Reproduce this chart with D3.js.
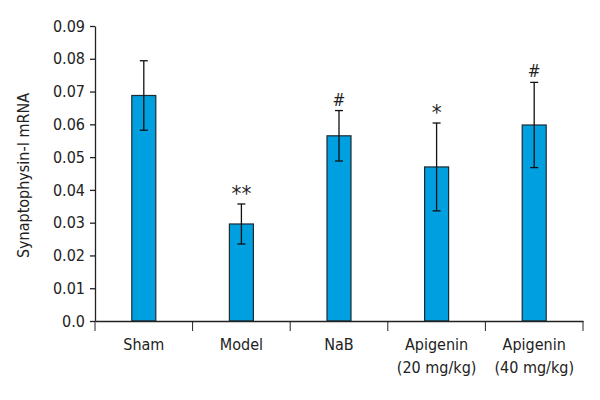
<!DOCTYPE html>
<html>
<head>
<meta charset="utf-8">
<script src="https://cdn.jsdelivr.net/npm/d3@7"></script>
<style>
  body { margin: 0; background: #fff; }
  svg text { font-family: "Liberation Sans Narrow", "DejaVu Sans Condensed", sans-serif; fill: #222; }
</style>
</head>
<body>
<svg id="chart" width="600" height="400"></svg>
<script>
// data
var groups = ["Sham", "Model", "NaB", "Apigenin\n(20 mg/kg)", "Apigenin\n(40 mg/kg)"];
var means  = [0.0688, 0.0296, 0.0565, 0.0470, 0.0598];
var errors = [0.0106, 0.0061, 0.0077, 0.0134, 0.0130];
var marks  = ["", "**", "#", "*", "#"];
var yTicks = [0, 0.01, 0.02, 0.03, 0.04, 0.05, 0.06, 0.07, 0.08, 0.09];

var svg = d3.select("#chart"),
    margin = {top: 26, right: 17, bottom: 79, left: 95},
    width = 600 - margin.left - margin.right,
    height = 400 - margin.top - margin.bottom,
    g = svg.append("g").attr("transform", "translate(" + margin.left + "," + margin.top + ")");

var x = d3.scaleBand()
    .domain(groups)
    .range([0, width]);

var y = d3.scaleLinear()
    .domain([0, 0.09])
    .range([height, 0]);

var barW = 24;

// bars
g.selectAll(".bar")
  .data(groups)
  .enter().append("rect")
    .attr("class", "bar")
    .attr("x", function(d) { return x(d) + x.bandwidth() / 2 - barW / 2; })
    .attr("y", function(d, i) { return y(means[i]); })
    .attr("width", barW)
    .attr("height", function(d, i) { return height - y(means[i]); })
    .attr("fill", "#009fdf")
    .attr("stroke", "#1d2b33")
    .attr("stroke-width", 1.2);

// error bars
var err = g.selectAll(".err")
  .data(groups)
  .enter().append("g")
    .attr("class", "err")
    .attr("stroke", "#111")
    .attr("stroke-width", 1.3);

err.append("line")
    .attr("x1", function(d) { return x(d) + x.bandwidth() / 2; })
    .attr("x2", function(d) { return x(d) + x.bandwidth() / 2; })
    .attr("y1", function(d, i) { return y(means[i] + errors[i]); })
    .attr("y2", function(d, i) { return y(means[i] - errors[i]); });

[1, -1].forEach(function(s) {
  err.append("line")
      .attr("x1", function(d) { return x(d) + x.bandwidth() / 2 - 4; })
      .attr("x2", function(d) { return x(d) + x.bandwidth() / 2 + 4; })
      .attr("y1", function(d, i) { return y(means[i] + s * errors[i]); })
      .attr("y2", function(d, i) { return y(means[i] + s * errors[i]); });
});

// significance marks
g.selectAll(".sig")
  .data(groups)
  .enter().append("text")
    .attr("class", "sig")
    .attr("x", function(d) { return x(d) + x.bandwidth() / 2; })
    .attr("y", function(d, i) { return y(means[i] + errors[i]) - (marks[i] === "#" ? 5 : 3); })
    .attr("text-anchor", "middle")
    .style("font-size", function(d, i) { return marks[i] === "#" ? "17px" : "22px"; })
    .text(function(d, i) { return marks[i]; });

// y axis
var yAxis = g.append("g")
    .call(d3.axisLeft(y).tickValues(yTicks).tickSize(5).tickSizeOuter(0)
      .tickFormat(function(d) { return d === 0 ? "0.0" : d3.format(".2f")(d); }));
yAxis.selectAll("text").style("font-size", "16px").attr("x", -10);

// x axis
var xAxis = g.append("g")
    .attr("transform", "translate(0," + height + ")")
    .call(d3.axisBottom(x).tickSize(0).tickSizeOuter(0).tickFormat(""));

g.append("g")
    .attr("transform", "translate(0," + height + ")")
  .selectAll("line")
  .data(groups.map(function(d) { return x(d); }).concat([width]))
  .enter().append("line")
    .attr("x1", function(d) { return d; })
    .attr("x2", function(d) { return d; })
    .attr("y1", 0)
    .attr("y2", 10)
    .attr("stroke", "#222");

g.selectAll(".domain, .tick line").attr("stroke", "#222").attr("stroke-width", 1.3);

var xl = g.append("g").selectAll("text")
  .data(groups)
  .enter().append("text")
    .attr("x", function(d) { return x(d) + x.bandwidth() / 2; })
    .attr("y", height + 29)
    .attr("text-anchor", "middle")
    .style("font-size", "16px");

xl.each(function(d) {
  var t = d3.select(this);
  d.split("\n").forEach(function(s, i) {
    t.append("tspan")
      .attr("x", t.attr("x"))
      .attr("dy", i === 0 ? 0 : 23)
      .text(s);
  });
});

// y label
svg.append("text")
    .attr("transform", "translate(29," + (margin.top + height / 2 + 2) + ") rotate(-90)")
    .attr("text-anchor", "middle")
    .style("font-size", "16px")
    .text("Synaptophysin-I mRNA");
</script>
</body>
</html>
